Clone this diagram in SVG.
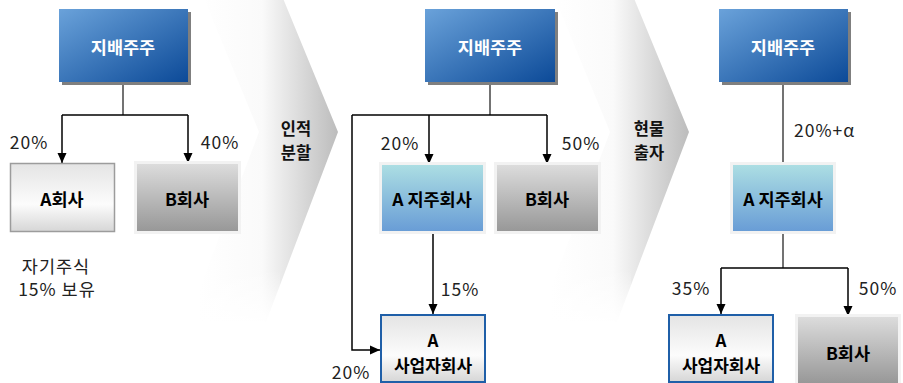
<svg xmlns="http://www.w3.org/2000/svg" width="903" height="383" viewBox="0 0 903 383">
<defs>
<linearGradient id="gBlue" x1="0" y1="0" x2="1" y2="1">
<stop offset="0" stop-color="#6aa2da"/>
<stop offset="1" stop-color="#0c4a98"/>
</linearGradient>
<linearGradient id="gGrey" x1="0" y1="0" x2="0" y2="1">
<stop offset="0" stop-color="#dcdcdc"/>
<stop offset="1" stop-color="#989898"/>
</linearGradient>
<linearGradient id="gLight" x1="0" y1="0" x2="0" y2="1">
<stop offset="0" stop-color="#e4e4e4"/>
<stop offset="0.6" stop-color="#fcfcfc"/>
<stop offset="1" stop-color="#d6d6d6"/>
</linearGradient>
<linearGradient id="gCyan" x1="0" y1="0" x2="0" y2="1">
<stop offset="0" stop-color="#acdee3"/>
<stop offset="1" stop-color="#699dd6"/>
</linearGradient>
<linearGradient id="gChev1" gradientUnits="userSpaceOnUse" x1="200" y1="0" x2="338" y2="0">
<stop offset="0" stop-color="#ffffff"/>
<stop offset="0.45" stop-color="#fafafa"/>
<stop offset="1" stop-color="#bcbcbc"/>
</linearGradient>
<linearGradient id="gChev2" gradientUnits="userSpaceOnUse" x1="551" y1="0" x2="689" y2="0">
<stop offset="0" stop-color="#ffffff"/>
<stop offset="0.45" stop-color="#fafafa"/>
<stop offset="1" stop-color="#bcbcbc"/>
</linearGradient>
<linearGradient id="gFade" x1="0" y1="0" x2="0" y2="1">
<stop offset="0" stop-color="#fff" stop-opacity="0"/>
<stop offset="1" stop-color="#fff" stop-opacity="1"/>
</linearGradient>
<marker id="ah" viewBox="0 0 10 10" refX="10" refY="5" markerWidth="10" markerHeight="10" orient="auto" markerUnits="userSpaceOnUse">
<path d="M0,0.5 L10,5 L0,9.5 Z" fill="#000"/>
</marker>
</defs>
<style>
text{font-family:"Noto Sans CJK KR","Noto Sans",sans-serif;dominant-baseline:central;text-anchor:middle}
.nb{font-size:17.5px;font-weight:bold;fill:#000}
.nw{font-size:17.5px;font-weight:bold;fill:#fff}
.ns{font-size:17px;font-weight:bold;fill:#000}
.lb{font-size:17.5px;fill:#222;letter-spacing:1px}
.cv{font-size:16.5px;fill:#111;font-weight:bold}
.shadow{fill:#7f7f7f}
.blue{fill:url(#gBlue)}
.grey{fill:url(#gGrey)}
.frame{fill:#f2f2f2}
.light{fill:url(#gLight);stroke:#9c9c9c;stroke-width:1.5}
.sub{fill:url(#gLight);stroke:#1f5fa8;stroke-width:2}
.cyan{fill:url(#gCyan)}
.stub{fill:none;stroke:#444;stroke-width:1.5}
.ln{fill:none;stroke:#000;stroke-width:1.5}
.arr{fill:none;stroke:#000;stroke-width:1.5;marker-end:url(#ah)}
</style>
<rect width="903" height="383" fill="#fff"/>

<g id="chevron1">
<polygon points="180,-60 259,-60 338,132 266,322 187,322 259,132" fill="url(#gChev1)"/>
<rect x="180" y="270" width="100" height="55" fill="url(#gFade)"/>
<text class="cv" x="296" y="128">인적</text>
<text class="cv" x="296" y="152">분할</text>
</g>
<g id="chevron2">
<polygon points="531,-60 610,-60 689,132 617,322 538,322 610,132" fill="url(#gChev2)"/>
<rect x="531" y="270" width="100" height="55" fill="url(#gFade)"/>
<text class="cv" x="649" y="128">현물</text>
<text class="cv" x="649" y="152">출자</text>
</g>

<g id="connectors">
<path class="stub" d="M123,82 V115"/>
<path class="ln" d="M62,115 H188"/>
<path class="arr" d="M62,115 V163"/>
<path class="arr" d="M188,115 V163"/>

<path class="stub" d="M490,82 V115"/>
<path class="ln" d="M352,115 H547"/>
<path class="arr" d="M429,115 V164"/>
<path class="arr" d="M547,115 V164"/>
<path class="arr" d="M352,115 V350 H380"/>
<path class="arr" d="M433,233 V314"/>

<path class="stub" d="M783,82 V163"/>
<path class="stub" d="M783,233 V268"/>
<path class="ln" d="M721,268 H848"/>
<path class="arr" d="M721,268 V314"/>
<path class="arr" d="M848,268 V316"/>
</g>

<g id="labels">
<text class="lb" x="29" y="141">20%</text>
<text class="lb" x="220" y="141">40%</text>
<text class="lb" x="56" y="265">자기주식</text>
<text class="lb" x="57" y="288">15% 보유</text>
<text class="lb" x="400" y="142">20%</text>
<text class="lb" x="581" y="142">50%</text>
<text class="lb" x="460" y="288">15%</text>
<text class="lb" x="351" y="371">20%</text>
<text class="lb" x="794" y="129" style="text-anchor:start">20%+α</text>
<text class="lb" x="691" y="287">35%</text>
<text class="lb" x="878" y="287">50%</text>
</g>

<g id="p1-holder">
<rect class="shadow" x="62" y="12" width="129" height="73"/>
<rect class="blue" x="59" y="9" width="129" height="73"/>
<text class="nw" x="123" y="46">지배주주</text>
</g>
<g id="p1-a">
<rect class="light" x="10.5" y="163.5" width="104" height="68"/>
<text class="nb" x="62" y="198">A회사</text>
</g>
<g id="p1-b">
<rect class="frame" x="134" y="161" width="107" height="73"/>
<rect class="grey" x="137" y="164" width="101" height="67"/>
<text class="nb" x="187" y="198">B회사</text>
</g>

<g id="p2-holder">
<rect class="shadow" x="428" y="12" width="130" height="73"/>
<rect class="blue" x="425" y="9" width="130" height="73"/>
<text class="nw" x="490" y="46">지배주주</text>
</g>
<g id="p2-ahold">
<rect class="frame" x="379" y="162" width="107" height="72"/>
<rect class="cyan" x="382" y="165" width="101" height="66"/>
<text class="nb" x="432" y="198">A 지주회사</text>
</g>
<g id="p2-b">
<rect class="frame" x="494" y="162" width="107" height="72"/>
<rect class="grey" x="497" y="165" width="101" height="66"/>
<text class="nb" x="547" y="198">B회사</text>
</g>
<g id="p2-asub">
<rect class="sub" x="381" y="315" width="104" height="67"/>
<text class="ns" x="433" y="339">A</text>
<text class="ns" x="433" y="364">사업자회사</text>
</g>

<g id="p3-holder">
<rect class="shadow" x="722" y="12" width="129" height="73"/>
<rect class="blue" x="719" y="9" width="129" height="73"/>
<text class="nw" x="783" y="46">지배주주</text>
</g>
<g id="p3-ahold">
<rect class="frame" x="730" y="162" width="106" height="72"/>
<rect class="cyan" x="733" y="165" width="100" height="66"/>
<text class="nb" x="783" y="198">A 지주회사</text>
</g>
<g id="p3-asub">
<rect class="sub" x="669" y="315" width="104" height="67"/>
<text class="ns" x="721" y="339">A</text>
<text class="ns" x="721" y="364">사업자회사</text>
</g>
<g id="p3-b">
<rect class="frame" x="795" y="314" width="106" height="72"/>
<rect class="grey" x="798" y="317" width="100" height="66"/>
<text class="nb" x="848" y="352">B회사</text>
</g>
</svg>
